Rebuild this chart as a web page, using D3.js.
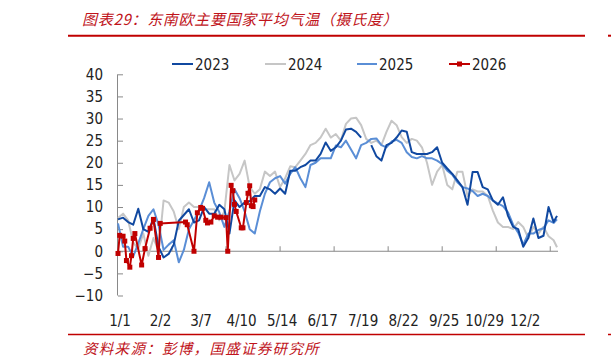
<!DOCTYPE html>
<html><head><meta charset="utf-8">
<script src="https://cdn.jsdelivr.net/npm/d3@7"></script>
<style>
html,body{margin:0;padding:0;background:#fff;}
svg{display:block;}
</style></head>
<body>
<script>
// ---------- data ----------
const seriesNames = ["2023","2024","2025","2026"];
const yTicks = [-10,-5,0,5,10,15,20,25,30,35,40];
const xLabels = ["1/1","2/2","3/7","4/10","5/14","6/17","7/19","8/22","9/25","10/29","12/2"];
const xLabelIdx = [0,24,48,72,96,120,144,168,192,216,240];
const xTickIdx = [32,64,96,128,160,192,224,256];
// sample positions (weekday index) for 2023-2025
const sampleIdx = [0,3,6,9,12,15,18,21,24,27,30,33,36,39,42,45,48,51,54,57,60,63,66,69,72,75,78,81,84,87,90,93,96,99,102,105,108,111,114,117,120,123,126,129,132,135,138,141,144,147,150,153,156,159,162,165,168,171,174,177,180,183,186,189,192,195,198,201,204,207,210,213,216,219,222,225,228,231,234,237,240,243,246,249,252,255,258,260];
const v2023 = [7.2,7.6,6.6,6,9.6,5,4.4,7.5,1,-1.4,-0.6,1.5,6.9,8.2,9.5,6.5,7,10,8.5,8.5,10.5,9.5,4,11.5,10,11,11.3,12.5,12.5,14.5,14,13,14.2,13,18.2,18.2,19,19.5,20.5,20.5,22,24.6,22.7,23.5,25,27.5,27.7,27,25.7,null,24,21.5,20.5,24,24.5,25.7,27.3,27,22.4,22,22,22,22.4,23.5,20,18.7,17.5,16,14.5,10.5,17.9,17.9,14.5,14,11.5,10.5,12.2,8,5.5,5,1,3,7.4,3,3.5,10,6.6,8];
const v2024 = [7.5,8.5,7,2,0.5,4,-1,3,0,11.5,11,9,5,10,11,10,10,9.5,9.5,9.5,7,9,19.5,16,17.5,20.5,14.5,13,14,18,17,18,14.5,16.5,19.2,19,20.5,22,24,24.5,25.7,27.7,25.7,26.5,25,28.8,30,30.2,28.5,25.4,24.5,25,24,27,29.5,28.5,25.8,24.5,25.4,25,23.5,20,15,18,19.5,15,14,18,18,12.5,14,13.5,13.5,12.5,9.2,6.5,5.5,5.5,5,6.6,5.5,3,5.5,4,5.5,3.4,2.5,0.9];
const v2025 = [6.3,1,1,-1.2,1.8,5,8,9.5,6,0.3,1.5,2.5,-2.5,0.3,5,7,9.2,12,15.6,11,8.8,5.5,9,14,12,9,5,4,9,13,15.6,16.5,17,15.3,17.5,19,16.5,14.5,19.5,20,21,21,21,23.9,23.5,25,23,21,24,24.5,25.4,25.5,24,23.5,24.8,25.2,24.5,22.4,21.3,21,21.5,21,21,20.5,19.7,18.2,17.3,15.6,14.5,14.2,13.6,12.5,13,12.5,11.5,10.8,10.2,8.8,6,4.2,1.5,4,4,4.8,5.2,7,6.4,7.2];
const idx2026 = [0,1,3,4,5,7,8,9,10,14,16,19,21,24,25,40,41,45,47,49,50,52,53,55,57,59,61,64,65,67,68,69,70,73,74,76,77,78,79,80,81];
const v2026 = [-0.5,3.6,3.4,2.3,-2.1,-3.6,-1,2.9,4,-3.1,0.6,5.2,7.2,-1.4,6.3,6.6,6,0,8.7,9.9,9.7,7,6.4,6.6,8,7.7,7.7,7.6,0,14.9,13.7,10.6,9,5.3,5.3,11,13.1,14.8,10.3,10.1,11.6];

const colors = {"2023":"#1048A0","2024":"#C6C6C6","2025":"#5A8ED6","2026":"#C00000"};
const FONT = "'DejaVu Sans Condensed','DejaVu Sans',sans-serif";
const CJK = "'Noto Sans CJK SC',sans-serif";

// ---------- svg ----------
const W = 611, H = 364;
const svg = d3.select("body").append("svg").attr("width", W).attr("height", H);

const x = d3.scaleLinear().domain([0, 260]).range([118, 557]);
const y = d3.scaleLinear().domain([-10, 40]).range([295.5, 74.3]);

// title & header line
svg.append("text").attr("x", 82).attr("y", 25)
  .attr("font-family", CJK).attr("font-size", 15).attr("font-style", "italic")
  .attr("letter-spacing", 0.7)
  .attr("fill", "#C0141B").text("图表29：东南欧主要国家平均气温（摄氏度）");
svg.append("line").attr("x1", 68).attr("x2", 585).attr("y1", 35.7).attr("y2", 35.7)
  .attr("stroke", "#C00000").attr("stroke-width", 2);
svg.append("line").attr("x1", 608).attr("x2", 611).attr("y1", 35.7).attr("y2", 35.7)
  .attr("stroke", "#C00000").attr("stroke-width", 2);

// footer
svg.append("line").attr("x1", 68).attr("x2", 585).attr("y1", 334.5).attr("y2", 334.5)
  .attr("stroke", "#C00000").attr("stroke-width", 1.5);
svg.append("line").attr("x1", 608).attr("x2", 611).attr("y1", 334.5).attr("y2", 334.5)
  .attr("stroke", "#C00000").attr("stroke-width", 1.5);
svg.append("text").attr("x", 83).attr("y", 354)
  .attr("font-family", CJK).attr("font-size", 14.5).attr("font-style", "italic")
  .attr("letter-spacing", 1.3)
  .attr("fill", "#C0141B").text("资料来源：彭博，国盛证券研究所");

// y axis
const yAxis = d3.axisLeft(y).tickValues(yTicks).tickSize(-5).tickPadding(15).tickFormat(d3.format("d"));
const gy = svg.append("g").attr("transform", `translate(${x(0)},0)`).call(yAxis);
gy.select(".domain").attr("stroke", "#898989").attr("d", `M-0.5,${y(-10)}V${y(40)}`);
gy.selectAll(".tick line").attr("stroke", "#898989");
gy.selectAll(".tick text").attr("font-family", FONT).attr("font-size", 15).attr("fill", "#222");

// x axis at y=0
const gx = svg.append("g");
gx.append("line").attr("x1", x(0)).attr("x2", 558).attr("y1", y(0)).attr("y2", y(0))
  .attr("stroke", "#898989").attr("stroke-width", 1);
gx.selectAll("line.xt").data(xTickIdx).join("line").attr("class", "xt")
  .attr("x1", d => x(d)).attr("x2", d => x(d)).attr("y1", y(0)).attr("y2", y(0) - 5)
  .attr("stroke", "#898989");
svg.selectAll("text.xl").data(xLabelIdx).join("text").attr("class", "xl")
  .attr("x", d => x(d) + 2).attr("y", 326).attr("text-anchor", "middle")
  .attr("font-family", FONT).attr("font-size", 15).attr("fill", "#222")
  .text((d, i) => xLabels[i]);

// lines
const line = d3.line().defined(d => d[1] !== null).x(d => x(d[0])).y(d => y(d[1]));
const series = {
  "2023": sampleIdx.map((d, i) => [d, v2023[i]]),
  "2024": sampleIdx.map((d, i) => [d, v2024[i]]),
  "2025": sampleIdx.map((d, i) => [d, v2025[i]]),
  "2026": idx2026.map((d, i) => [d, v2026[i]])
};
["2024", "2025", "2023", "2026"].forEach(k => {
  svg.append("path").datum(series[k]).attr("d", line)
    .attr("fill", "none").attr("stroke", colors[k]).attr("stroke-width", 2)
    .attr("stroke-linejoin", "round");
});
svg.selectAll("rect.mk").data(series["2026"]).join("rect").attr("class", "mk")
  .attr("x", d => x(d[0]) - 2.5).attr("y", d => y(d[1]) - 2.5)
  .attr("width", 5).attr("height", 5).attr("fill", colors["2026"]);

// legend
const legX = [{k:"2023", x1:172, x2:193, tx:195}, {k:"2024", x1:265, x2:286, tx:288},
              {k:"2025", x1:357, x2:377, tx:379}, {k:"2026", x1:449, x2:470, tx:472}];
const lg = svg.append("g");
legX.forEach(d => {
  lg.append("line").attr("x1", d.x1).attr("x2", d.x2).attr("y1", 64).attr("y2", 64)
    .attr("stroke", colors[d.k]).attr("stroke-width", 2);
  if (d.k === "2026") lg.append("rect").attr("x", (d.x1 + d.x2) / 2 - 2.5).attr("y", 61.5)
    .attr("width", 5).attr("height", 5).attr("fill", colors[d.k]);
  lg.append("text").attr("x", d.tx).attr("y", 69.5).attr("font-family", FONT)
    .attr("font-size", 15).attr("fill", "#222").text(d.k);
});
</script>
</body></html>
